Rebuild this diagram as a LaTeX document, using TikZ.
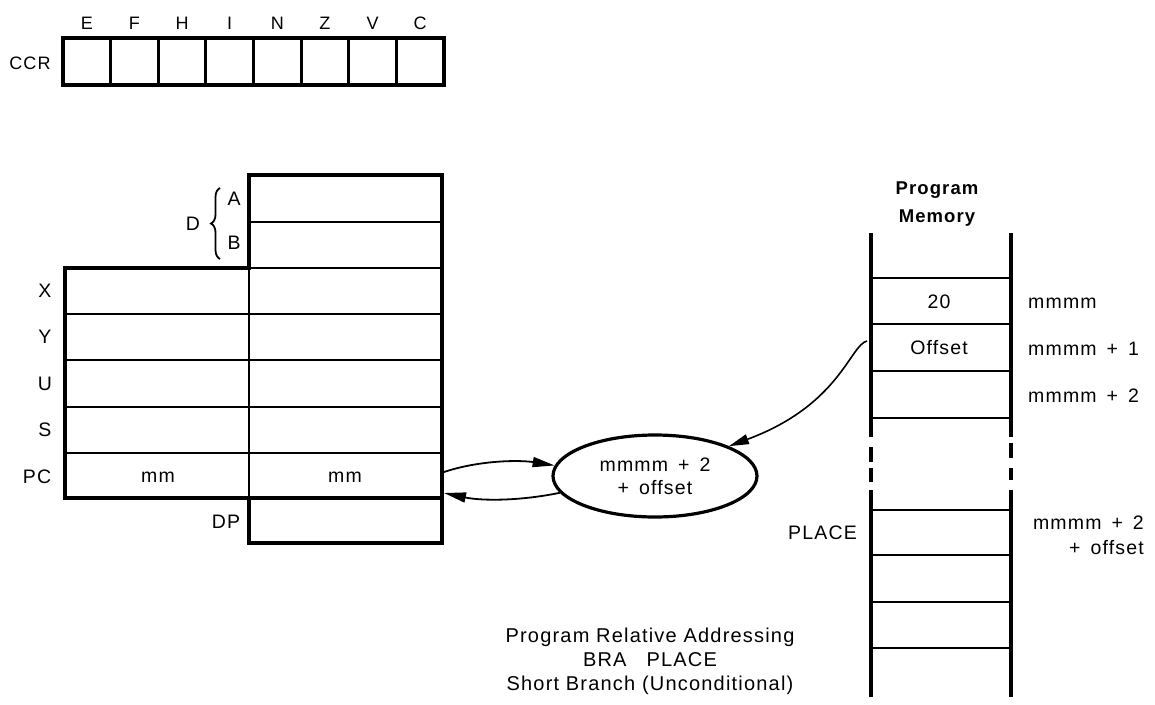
\documentclass[tikz,border=0pt]{standalone}
\usepackage{fontspec}
\setmainfont{Liberation Sans}[LetterSpace=6]
\usetikzlibrary{arrows.meta,decorations.pathreplacing,shapes.geometric}
\newcommand\wsp{\hspace{10pt}}
\begin{document}
\begin{tikzpicture}[x=1pt,y=-1pt,
  lbl/.style={inner sep=0pt, font=\fontsize{19.5}{22}\selectfont},
  flag/.style={inner sep=0pt, font=\fontsize{18}{20}\selectfont},
  boldlbl/.style={inner sep=0pt, font=\bfseries\fontsize{18.5}{28}\selectfont, align=center},
  outline/.style={line width=3.4pt, line join=miter},
  rowline/.style={line width=2.2pt},
  memside/.style={line width=4.2pt},
  memrow/.style={line width=2.6pt},
  arr/.style={line width=1.8pt, -{Triangle[length=22pt,width=10pt]}},
]
\useasboundingbox[fill=white] (0,0) rectangle (1155,704);

% ---------- CCR ----------
\draw[outline] (63,38) rectangle (444,85);
\foreach \i in {1,...,7} \draw[line width=2.8pt] ({63+\i*47.625},38) -- ({63+\i*47.625},85);
\foreach \l [count=\i] in {E,F,H,I,N,Z,V,C}
  \node[flag] (c\i) at ({63+(\i-0.5)*47.625},23) {\l};
\node[flag] (ccr) at (30,63) {CCR};

% ---------- register block ----------
\draw[rowline] (249,222) -- (442,222);
\draw[rowline] (249,268) -- (442,268);
\foreach \y in {314,360,407,453} \draw[rowline] (65,\y) -- (442,\y);
\draw[rowline] (249,268) -- (249,498);
\draw[outline] (65,268) -- (249,268) -- (249,175) -- (442,175) -- (442,543)
  -- (249,543) -- (249,498) -- (65,498) -- cycle;
\draw[outline] (249,498) -- (442,498);

\node[lbl] (D) at (193,224) {D};
\node[lbl] (A) at (234,199) {A};
\node[lbl] (B) at (234,243) {B};
\draw[line width=1.8pt, decorate, decoration={brace, amplitude=9pt}] (220,259) -- (220,188);

\node[lbl] (X) at (45,291) {X};
\node[lbl] (Y) at (45,337) {Y};
\node[lbl] (U) at (45,384) {U};
\node[lbl] (S) at (45,430) {S};
\node[lbl] (PC) at (37,477) {PC};
\node[lbl] (mm1) at (158,477) {mm};
\node[lbl] (mm2) at (345,477) {mm};
\node[lbl] (DP) at (226,522) {DP};

% ---------- ellipse ----------
\node[ellipse, draw, line width=3.2pt, minimum width=204pt, minimum height=82pt,
  inner sep=0pt, align=center, font=\fontsize{19.5}{23}\selectfont] (ell) at (655,476)
  {mmmm\wsp+\wsp2\\+\wsp offset};

\coordinate (pcA) at (444,472);
\coordinate (pcB) at (444,493);
\draw[arr] (pcA) .. controls (480,460) and (520,460) .. (ell.174);
\draw[arr] (ell.190) .. controls (520,501) and (482,501) .. (pcB);

% ---------- program memory ----------
\node[boldlbl] (pmtitle) at (937,204) {Program\\Memory};
\foreach \x in {871,1011} {
  \draw[memside] (\x,233) -- (\x,437);
  \draw[memside] (\x,490) -- (\x,697);
}
\draw[memside] (871,447) -- (871,462);
\draw[memside] (871,468) -- (871,482);
\draw[memside] (1011,443) -- (1011,458);
\draw[memside] (1011,468) -- (1011,480);
\foreach \y in {278,324,371,418,510,555,602,648} \draw[memrow] (871,\y) -- (1011,\y);

\node[lbl] (v20) at (939,302) {20};
\node[lbl] (voff) at (939,348) {Offset};
\node[lbl, anchor=west] (m0) at (1028,303) {mmmm};
\node[lbl, anchor=west] (m1) at (1028,349) {mmmm\wsp+\wsp1};
\node[lbl, anchor=west] (m2) at (1028,396) {mmmm\wsp+\wsp2};
\node[lbl, anchor=east] (mp1) at (1144,523) {mmmm\wsp+\wsp2};
\node[lbl, anchor=east] (mp2) at (1144,548) {+\wsp offset};
\node[lbl, anchor=east] (place) at (857,533) {PLACE};

\coordinate (offw) at (867,341);
\draw[line width=1.6pt, -{Triangle[length=20pt,width=10pt]}]
  (offw) .. controls (850,345) and (840,405) .. (ell.22);

% ---------- caption ----------
\node[lbl, align=center, font=\fontsize{20}{24}\selectfont] (cap) at (650,661)
  {Program Relative Addressing\\BRA\hspace{20pt}PLACE\\Short Branch (Unconditional)};
\end{tikzpicture}
\end{document}
